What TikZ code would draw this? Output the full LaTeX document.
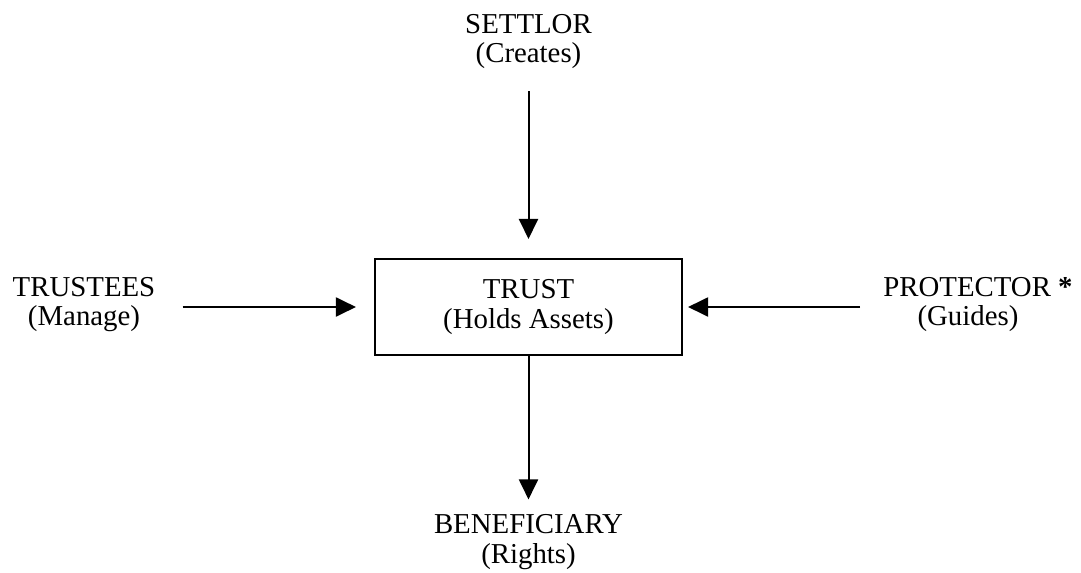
\documentclass[tikz,border=0pt]{standalone}
\usepackage{fontspec}
\setmainfont{Liberation Serif}
\usetikzlibrary{arrows.meta}

\tikzset{
  party/.style={align=center, inner sep=0pt, font=\fontsize{20.5}{20.8}\selectfont},
  trustbox/.style={party, draw, line width=0.05cm, minimum width=7.675cm, minimum height=2.4cm},
  flow/.style={-{Triangle[length=0.5cm, width=0.475cm]}, line width=0.05cm}
}

\begin{document}
\begin{tikzpicture}[x=0.025cm, y=-0.025cm]

    %% =========================================================
    %% canvas in pixel units of the reference, (0,0) top-left
    %% =========================================================
    \useasboundingbox (0,0) rectangle (1081,573);

    %% THE TRUST (centre box)
    \node[trustbox] (trust) at (528.5,307) {TRUST\\(Holds Assets)};

    %% PARTIES round it
    \node[party] (settlor)     at (528.5,41.5) {SETTLOR\\(Creates)};
    \node[party] (trustees)    at (84,304.5)   {TRUSTEES\\(Manage)};
    \node[party] (protector)   at (978,304.5)  {PROTECTOR \textbf{*}\\(Guides)\hspace*{0.5cm}};
    \node[party] (beneficiary) at (528.5,542)  {BENEFICIARY\\(Rights)};

    %% ARROWS
    \draw[flow, shorten <=0.55cm, shorten >=0.475cm] (settlor) -- (trust);
    \draw[flow, shorten <=0.675cm, shorten >=0.45cm] (trustees.east |- trust) -- (trust);
    \draw[flow, shorten <=0.575cm, shorten >=0.125cm] (protector.west |- trust) -- (trust);
    \draw[flow, shorten >=0.375cm] (trust) -- (beneficiary);

  \end{tikzpicture}
\end{document}
